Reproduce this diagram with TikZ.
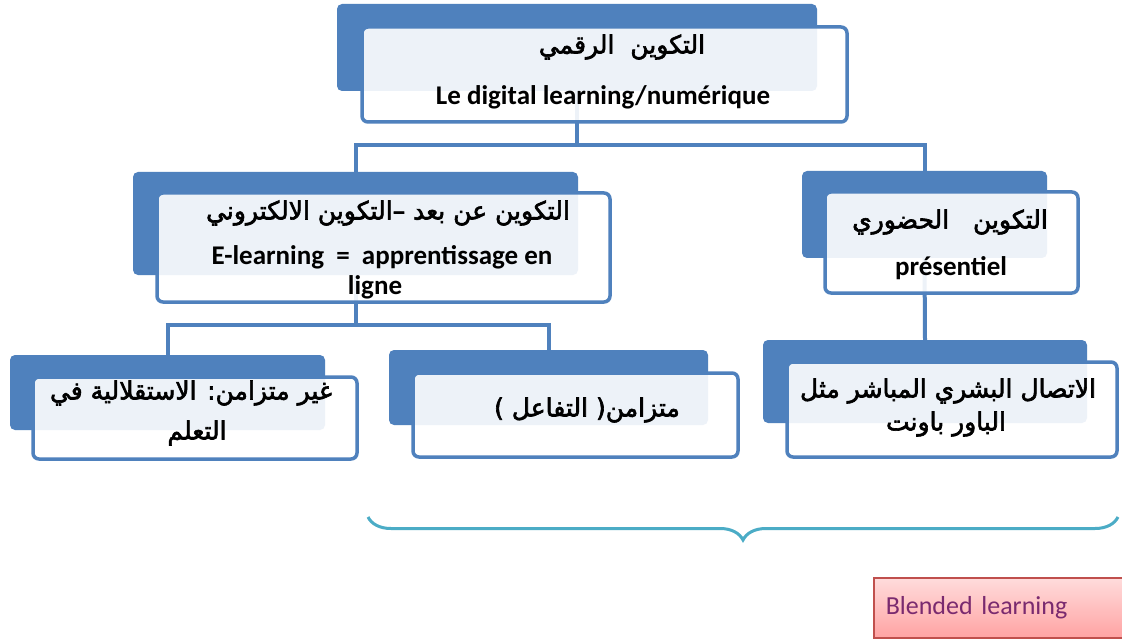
\documentclass[tikz,border=0pt]{standalone}
\usepackage{fontspec}
\setmainfont{Carlito}
\newfontfamily\arabicfont[Script=Arabic,FakeBold=2.5]{DejaVu Sans}
\TeXXeTstate=1
\usepackage{tikz}
\usetikzlibrary{decorations.pathreplacing}

\definecolor{boxblue}{HTML}{4F81BD}
\definecolor{bracecol}{HTML}{4BACC6}
\definecolor{blendtop}{HTML}{FFDCDC}
\definecolor{blendbot}{HTML}{FFA3A3}
\definecolor{blendline}{HTML}{C0504D}
\definecolor{blendtext}{HTML}{7A2A6F}

\tikzset{
  backbox/.style={fill=boxblue, rounded corners=5pt, inner sep=0pt},
  frontbox/.style={draw=boxblue, line width=3.5pt, fill=white, fill opacity=0.9,
    rounded corners=6pt, inner sep=0pt},
  link/.style={draw=boxblue, line width=4pt},
  artext/.style={font=\arabicfont\fontsize{25}{29}\selectfont, inner sep=0pt},
  latext/.style={font=\bfseries\fontsize{27}{32}\selectfont, inner sep=0pt},
  blendbox/.style={draw=blendline, line width=1.5pt, top color=blendtop,
    bottom color=blendbot, text=blendtext, font=\fontsize{26}{30}\selectfont,
    text width=236pt, align=left, inner xsep=12pt, inner ysep=0pt},
}

\begin{document}
\begin{tikzpicture}[x=1pt,y=-1pt]
\useasboundingbox (0,0) rectangle (1122,639);
\fill[white] (0,0) rectangle (1122,639);
% back boxes
\node[backbox, minimum width=480, minimum height=87] (top-b) at (577,47.5) {};
\node[backbox, minimum width=445, minimum height=103] (midl-b) at (355.5,223.5) {};
\node[backbox, minimum width=245, minimum height=87] (midr-b) at (924.5,214.5) {};
\node[backbox, minimum width=315, minimum height=75] (botl-b) at (167.5,392.5) {};
\node[backbox, minimum width=319, minimum height=75] (botm-b) at (548.5,387.5) {};
\node[backbox, minimum width=324, minimum height=83] (botr-b) at (925,381.5) {};
% connectors
\coordinate (hub1) at (577,145);
\coordinate (hub2) at (355.5,325);
\draw[link] (top-b.south) -- (hub1);
\draw[link] (hub1) -| (midl-b.north);
\draw[link] (hub1) -| (midr-b.north);
\draw[link] (midl-b.south) -- (hub2);
\draw[link] (hub2) -| (botl-b.north);
\draw[link] (hub2) -| (botm-b.north);
\draw[link] (midr-b.south) -- (botr-b.north);
% front boxes
\node[frontbox, minimum width=485, minimum height=95] (top) at (604.5,74.5) {};
\node[frontbox, minimum width=453, minimum height=109] (midl) at (383.5,247.5) {};
\node[frontbox, minimum width=253, minimum height=101] (midr) at (951.5,242.5) {};
\node[frontbox, minimum width=324, minimum height=82] (botl) at (195,418) {};
\node[frontbox, minimum width=325, minimum height=84] (botm) at (575.5,415) {};
\node[frontbox, minimum width=330, minimum height=95] (botr) at (952,409.5) {};
% labels
\node[artext] (top-ar) at (622,47) {\beginR التكوين~ الرقمي\endR};
\node[latext] (top-fr) at (603,97) {Le digital learning/numérique};
\node[artext] (midl-ar) at (388,213) {\beginR التكوين عن بعد –التكوين الالكتروني\endR};
\node[latext] (midl-fr) at (382,257) {E-learning \ = \ apprentissage en};
\node[latext] (midl-fr2) at (375,287) {ligne};
\node[artext] (midr-ar) at (950,222) {\beginR التكوين~~ الحضوري\endR};
\node[latext] (midr-fr) at (951,268) {présentiel};
\node[artext] (botl-ar) at (191,393) {\beginR غير متزامن: الاستقلالية في\endR};
\node[artext] (botl-ar2) at (197,433) {\beginR التعلم\endR};
\node[artext] (botm-ar) at (587,410) {\beginR متزامن( التفاعل )\endR};
\node[artext] (botr-ar) at (948,391) {\beginR الاتصال البشري المباشر مثل\endR};
\node[artext] (botr-ar2) at (946,424) {\beginR الباور باونت\endR};
% brace and blended box
\draw[bracecol, line width=3pt, decorate, decoration={brace, mirror, amplitude=23pt}]
  (368,517) -- (1118,517);
\node[blendbox, anchor=north west, minimum height=60] (blend) at (873,577) {Blended learning};
\end{tikzpicture}
\end{document}
